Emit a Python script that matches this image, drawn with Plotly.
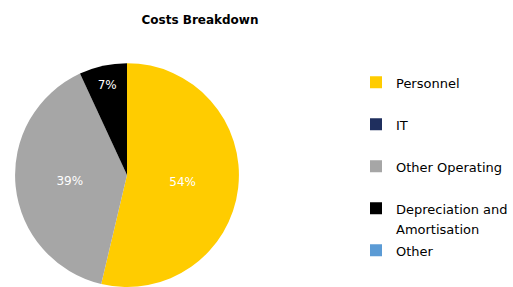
import plotly.graph_objects as go

categories = ["Personnel", "IT", "Other Operating", "Depreciation and Amortisation", "Other"]
legend_lines = [["Personnel", " "], ["IT", " "], ["Other Operating", " "],
                ["Depreciation and", "Amortisation"], ["Other"]]
values = [53.7, 0, 39.4, 6.9, 0]
colors = ["#FFCC00", "#1F2F5E", "#A6A6A6", "#000000", "#5B9BD5"]
show_text = ["%{percent:.0%}", "", "%{percent:.0%}", "%{percent:.0%}", ""]

FONT = "DejaVu Sans"

legend_labels = ["<br>".join(f"<span style='font-size:13px'>{ln}</span>" for ln in lines)
                 for lines in legend_lines]

fig = go.Figure(go.Pie(
    labels=legend_labels,
    values=values,
    customdata=categories,
    marker=dict(colors=colors, line=dict(width=0)),
    sort=False,
    direction="clockwise",
    rotation=0,
    texttemplate=show_text,
    textposition="inside",
    insidetextorientation="horizontal",
    textfont=dict(color="white", size=12, family=FONT),
    hovertemplate="%{customdata}: %{percent:.0%}<extra></extra>",
    domain=dict(x=[0.0, 254/513], y=[0.0, 0.78]),
))

fig.update_layout(
    width=513, height=287,
    margin=dict(l=0, r=0, t=0, b=0),
    paper_bgcolor="white",
    plot_bgcolor="white",
    font=dict(family=FONT, size=12, color="black"),
    title=dict(text="<b>Costs Breakdown</b>", x=200/513, xanchor="center", y=1-20/287, yanchor="middle",
               font=dict(size=12, family=FONT, color="black")),
    legend=dict(x=356/513, xanchor="left", y=1-66/287, yanchor="top", valign="top",
                font=dict(size=15, family=FONT), traceorder="normal", itemclick=False),
    showlegend=True,
)

fig.write_html("out.html", config={"displayModeBar": False},
               post_script="document.body.style.margin='0';")
